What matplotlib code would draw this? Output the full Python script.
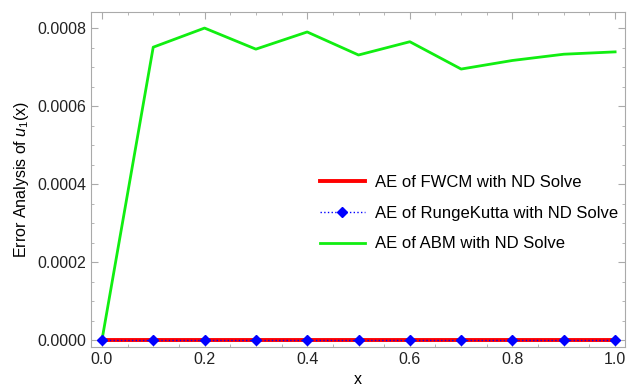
import matplotlib.pyplot as plt
from matplotlib.ticker import MultipleLocator

plt.rcParams["font.family"] = ["Liberation Sans", "DejaVu Sans"]
plt.rcParams["mathtext.fontset"] = "custom"
plt.rcParams["mathtext.it"] = "Liberation Sans:italic"
plt.rcParams["mathtext.rm"] = "Liberation Sans"

x = [0.0, 0.1, 0.2, 0.3, 0.4, 0.5, 0.6, 0.7, 0.8, 0.9, 1.0]
ae_fwcm = [0.0] * 11
ae_rk = [0.0] * 11
ae_abm = [0.0, 0.000751, 0.000800, 0.000746, 0.000790, 0.000731,
          0.000765, 0.000695, 0.000717, 0.000733, 0.000739]

fig = plt.figure(figsize=(6.27, 3.89), dpi=100)
ax = fig.add_axes([0.145, 0.108, 0.852, 0.861])

ax.plot(x, ae_fwcm, color="red", lw=2.8, label="AE of FWCM with ND Solve", zorder=3)
ax.plot(x, ae_rk, color="blue", lw=1, ls=":", marker="D", ms=5,
        label="AE of RungeKutta with ND Solve", zorder=4)
ax.plot(x, ae_abm, color="#11ee11", lw=2, label="AE of ABM with ND Solve", zorder=2)

ax.set_xlim(-0.0214, 1.0195)
ax.set_ylim(-0.000017, 0.000841)
ax.xaxis.set_major_locator(MultipleLocator(0.2))
ax.xaxis.set_minor_locator(MultipleLocator(0.05))
ax.yaxis.set_major_locator(MultipleLocator(0.0002))
ax.yaxis.set_minor_locator(MultipleLocator(0.00005))
ax.xaxis.set_major_formatter(plt.FuncFormatter(lambda v, p: f"{v:.1f}"))
ax.yaxis.set_major_formatter(plt.FuncFormatter(lambda v, p: f"{v:.4f}"))

for s in ax.spines.values():
    s.set_color("#aaaaaa")
ax.tick_params(which="both", direction="in", top=True, right=True,
               color="#aaaaaa", labelsize=11.5, labelcolor="#222222")
ax.tick_params(which="major", length=5)
ax.tick_params(which="minor", length=2.5)

ax.set_xlabel("x", fontsize=11.5, labelpad=4)
ax.set_ylabel("Error Analysis of $u_1$(x)", fontsize=11.5)

ax.legend(loc="center left", bbox_to_anchor=(0.4, 0.4), frameon=False,
          fontsize=12, handlelength=2.7, handletextpad=0.65, labelspacing=0.95)

plt.savefig("out.png", dpi=100)
